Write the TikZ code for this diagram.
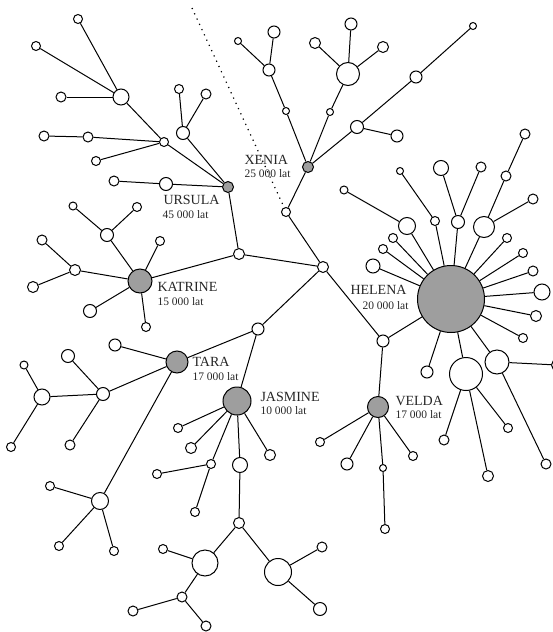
\documentclass[tikz,border=0pt]{standalone}
\usepackage{fontspec}
\setmainfont{Liberation Serif}

\tikzset{
  hap/.style={circle, draw, fill=white, inner sep=0pt, minimum size=#1pt},
  hap/.default=9,
  clan/.style={hap=#1, fill=black!38},
  clanname/.style={anchor=west, inner sep=0pt, text=black!85, font=\fontsize{14}{14}\selectfont},
  clanage/.style={anchor=west, inner sep=0pt, text=black!85, font=\fontsize{11.5}{11.5}\selectfont},
  cut/.style={line width=1.2pt, dash pattern=on 1.2pt off 4.6pt}
}

\begin{document}
\begin{tikzpicture}[x=1pt, y=-1pt, line width=1pt]
\clip ( 0, 0 ) rectangle ( 553, 632 );

% Ursula
\node[clan=11] (ur)  at ( 228, 187 ) {};
\node[hap=16]  (u1)  at ( 121,  97 ) {};
\node[hap=9]   (u1a) at (  78,  19 ) {};
\node[hap=9]   (u1b) at (  36,  46 ) {};
\node[hap=10]  (u1c) at (  61,  97 ) {};
\node[hap=9]   (u2)  at ( 164, 142 ) {};
\node[hap=10]  (u2a) at (  88, 137 ) {};
\node[hap=10]  (u2b) at (  44, 136 ) {};
\node[hap=9]   (u2c) at (  96, 161 ) {};
\node[hap=13]  (u3)  at ( 183, 133 ) {};
\node[hap=9]   (u3a) at ( 179,  89 ) {};
\node[hap=10]  (u3b) at ( 206,  94 ) {};
\node[hap=13]  (u4)  at ( 166, 184 ) {};
\node[hap=10]  (u4a) at ( 114, 181 ) {};

\draw (u1a) -- (u1);
\draw (u1b) -- (u1);
\draw (u1c) -- (u1);
\draw (u1) -- (u2);
\draw (u2b) -- (u2a);
\draw (u2a) -- (u2);
\draw (u2c) -- (u2);
\draw (u2) -- (ur);
\draw (u3a) -- (u3);
\draw (u3b) -- (u3);
\draw (u3) -- (ur);
\draw (u4a) -- (u4);
\draw (u4) -- (ur);

% Stamm
\node[hap=11]  (j1) at ( 239, 254 ) {};
\node[hap=11]  (j0) at ( 323, 267 ) {};
\node[hap=9]   (j2) at ( 286, 212 ) {};
\node[clan=11] (xe) at ( 308, 167 ) {};
\node[hap=12]  (j3) at ( 383, 341 ) {};
\node[hap=12]  (j4) at ( 258, 329 ) {};

\draw (ur) -- (j1);
\draw (j1) -- (j0);
\draw (j0) -- (j2);
\draw (j2) -- (xe);
\draw (j0) -- (j3);
\draw (j0) -- (j4);

% Xenia
\node[hap=7]  (x1)  at ( 286, 111 ) {};
\node[hap=12] (x2)  at ( 269,  70 ) {};
\node[hap=7]  (x2a) at ( 238,  41 ) {};
\node[hap=12] (x2b) at ( 274,  32 ) {};
\node[hap=7]  (x3)  at ( 330, 112 ) {};
\node[hap=23] (x4)  at ( 348,  74 ) {};
\node[hap=11] (x4a) at ( 315,  43 ) {};
\node[hap=12] (x4b) at ( 351,  24 ) {};
\node[hap=11] (x4c) at ( 383,  47 ) {};
\node[hap=13] (x5)  at ( 357, 127 ) {};
\node[hap=12] (x5a) at ( 397, 136 ) {};
\node[hap=12] (x6)  at ( 416,  77 ) {};
\node[hap=7]  (x6a) at ( 473,  26 ) {};

\draw (xe) -- (x1);
\draw (x1) -- (x2);
\draw (x2) -- (x2a);
\draw (x2) -- (x2b);
\draw (xe) -- (x3);
\draw (x3) -- (x4);
\draw (x4) -- (x4a);
\draw (x4) -- (x4b);
\draw (x4) -- (x4c);
\draw (xe) -- (x5);
\draw (x5) -- (x5a);
\draw (x5) -- (x6);
\draw (x6) -- (x6a);

% Katrine
\node[clan=24] (ka)  at ( 140, 281 ) {};
\node[hap=13]  (k1)  at ( 107, 235 ) {};
\node[hap=8]   (k1a) at (  73, 206 ) {};
\node[hap=9]   (k1b) at ( 137, 207 ) {};
\node[hap=9]   (k2)  at ( 160, 241 ) {};
\node[hap=11]  (k3)  at (  75, 270 ) {};
\node[hap=10]  (k3a) at (  42, 240 ) {};
\node[hap=11]  (k3b) at (  33, 287 ) {};
\node[hap=13]  (k4)  at (  90, 311 ) {};
\node[hap=9]   (k5)  at ( 146, 327 ) {};

\draw (j1) -- (ka);
\draw (ka) -- (k1);
\draw (k1) -- (k1a);
\draw (k1) -- (k1b);
\draw (ka) -- (k2);
\draw (ka) -- (k3);
\draw (k3) -- (k3a);
\draw (k3) -- (k3b);
\draw (ka) -- (k4);
\draw (ka) -- (k5);

% Tara
\node[clan=22] (ta)  at ( 177, 362 ) {};
\node[hap=12]  (t1)  at ( 115, 345 ) {};
\node[hap=13]  (t2)  at ( 103, 394 ) {};
\node[hap=13]  (t2a) at (  68, 356 ) {};
\node[hap=10]  (t2b) at (  70, 445 ) {};
\node[hap=16]  (t3)  at (  42, 397 ) {};
\node[hap=8]   (t3a) at (  24, 365 ) {};
\node[hap=9]   (t3b) at (  11, 447 ) {};
\node[hap=17]  (t4)  at ( 100, 501 ) {};
\node[hap=9]   (t4a) at (  50, 486 ) {};
\node[hap=9]   (t4b) at (  59, 546 ) {};
\node[hap=9]   (t4c) at ( 114, 551 ) {};

\draw (j4) -- (ta);
\draw (ta) -- (t1);
\draw (ta) -- (t2);
\draw (t2) -- (t2a);
\draw (t2) -- (t2b);
\draw (t2) -- (t3);
\draw (t3) -- (t3a);
\draw (t3) -- (t3b);
\draw (ta) -- (t4);
\draw (t4) -- (t4a);
\draw (t4) -- (t4b);
\draw (t4) -- (t4c);

% Jasmine
\node[clan=28] (ja)  at ( 237, 401 ) {};
\node[hap=9]   (q1)  at ( 178, 428 ) {};
\node[hap=11]  (q2)  at ( 191, 448 ) {};
\node[hap=9]   (q3)  at ( 211, 464 ) {};
\node[hap=9]   (q3a) at ( 157, 474 ) {};
\node[hap=9]   (q3b) at ( 195, 512 ) {};
\node[hap=15]  (q4)  at ( 240, 465 ) {};
\node[hap=11]  (q5)  at ( 270, 455 ) {};
\node[hap=11]  (q6)  at ( 239, 523 ) {};
\node[hap=26]  (q7)  at ( 205, 563 ) {};
\node[hap=9]   (q7a) at ( 163, 549 ) {};
\node[hap=10]  (q8)  at ( 182, 597 ) {};
\node[hap=10]  (q8a) at ( 133, 611 ) {};
\node[hap=10]  (q8b) at ( 206, 626 ) {};
\node[hap=27]  (q9)  at ( 278, 572 ) {};
\node[hap=10]  (q9a) at ( 322, 547 ) {};
\node[hap=13]  (q9b) at ( 320, 609 ) {};

\draw (j4) -- (ja);
\draw (ja) -- (q1);
\draw (ja) -- (q2);
\draw (ja) -- (q3);
\draw (q3) -- (q3a);
\draw (q3) -- (q3b);
\draw (ja) -- (q4);
\draw (q4) -- (q6);
\draw (ja) -- (q5);
\draw (q6) -- (q7);
\draw (q7) -- (q7a);
\draw (q7) -- (q8);
\draw (q8) -- (q8a);
\draw (q8) -- (q8b);
\draw (q6) -- (q9);
\draw (q9) -- (q9a);
\draw (q9) -- (q9b);

% Velda
\node[clan=21] (ve)  at ( 378, 407 ) {};
\node[hap=9]   (v1)  at ( 320, 442 ) {};
\node[hap=12]  (v2)  at ( 347, 464 ) {};
\node[hap=7]   (v3)  at ( 383, 468 ) {};
\node[hap=9]   (v3a) at ( 385, 529 ) {};
\node[hap=9]   (v4)  at ( 413, 456 ) {};

\draw (j3) -- (ve);
\draw (ve) -- (v1);
\draw (ve) -- (v2);
\draw (ve) -- (v3);
\draw (v3) -- (v3a);
\draw (ve) -- (v4);

% Helena
\node[clan=67] (he)   at ( 451, 299 ) {};
\node[hap=17]  (h1)   at ( 407, 226 ) {};
\node[hap=8]   (h1a)  at ( 344, 190 ) {};
\node[hap=9]   (h2)   at ( 435, 221 ) {};
\node[hap=7]   (h2a)  at ( 400, 171 ) {};
\node[hap=13]  (h3)   at ( 458, 222 ) {};
\node[hap=15]  (h3a)  at ( 441, 168 ) {};
\node[hap=10]  (h3b)  at ( 481, 167 ) {};
\node[hap=21]  (h4)   at ( 484, 227 ) {};
\node[hap=10]  (h4a)  at ( 506, 176 ) {};
\node[hap=10]  (h4b)  at ( 525, 134 ) {};
\node[hap=10]  (h4c)  at ( 533, 199 ) {};
\node[hap=9]   (h5)   at ( 507, 238 ) {};
\node[hap=9]   (h6)   at ( 523, 253 ) {};
\node[hap=10]  (h7)   at ( 533, 271 ) {};
\node[hap=16]  (h8)   at ( 542, 292 ) {};
\node[hap=11]  (h9)   at ( 536, 316 ) {};
\node[hap=9]   (h10)  at ( 523, 338 ) {};
\node[hap=24]  (h11)  at ( 497, 362 ) {};
\node[hap=11]  (h11a) at ( 557, 365 ) {};
\node[hap=10]  (h11b) at ( 546, 464 ) {};
\node[hap=33]  (h12)  at ( 466, 374 ) {};
\node[hap=10]  (h12a) at ( 444, 440 ) {};
\node[hap=11]  (h12b) at ( 488, 476 ) {};
\node[hap=9]   (h12c) at ( 508, 428 ) {};
\node[hap=12]  (h13)  at ( 427, 372 ) {};
\node[hap=9]   (h14)  at ( 393, 238 ) {};
\node[hap=9]   (h15)  at ( 383, 249 ) {};
\node[hap=14]  (h16)  at ( 373, 266 ) {};

\draw (j3) -- (he);
\draw (he) -- (h1);
\draw (h1) -- (h1a);
\draw (he) -- (h2);
\draw (h2) -- (h2a);
\draw (he) -- (h3);
\draw (h3) -- (h3a);
\draw (h3) -- (h3b);
\draw (he) -- (h4);
\draw (h4) -- (h4a);
\draw (h4a) -- (h4b);
\draw (h4) -- (h4c);
\draw (he) -- (h5);
\draw (he) -- (h6);
\draw (he) -- (h7);
\draw (he) -- (h8);
\draw (he) -- (h9);
\draw (he) -- (h10);
\draw (he) -- (h11);
\draw (h11) -- (h11a);
\draw (h11) -- (h11b);
\draw (he) -- (h12);
\draw (h12) -- (h12a);
\draw (h12) -- (h12b);
\draw (h12) -- (h12c);
\draw (he) -- (h13);
\draw (he) -- (h14);
\draw (he) -- (h15);
\draw (he) -- (h16);

% Schnitt
\coordinate (cut1) at ( 192,   8 );
\coordinate (cut2) at ( 283, 205 );
\draw[cut] (cut1) -- (cut2);

% Namen
\node[clanname] (urn) at ( 163, 200 ) {URSULA};
\node[clanage]  (ury) at ( 162, 215 ) {45 000 lat};
\node[clanname] (xen) at ( 244, 160 ) {XENIA};
\node[clanage]  (xey) at ( 244, 174 ) {25 000 lat};
\node[clanname] (kan) at ( 157, 287 ) {KATRINE};
\node[clanage]  (kay) at ( 157, 302 ) {15 000 lat};
\node[clanname] (tan) at ( 192, 362 ) {TARA};
\node[clanage]  (tay) at ( 192, 377 ) {17 000 lat};
\node[clanname] (jan) at ( 260, 397 ) {JASMINE};
\node[clanage]  (jay) at ( 260, 411 ) {10 000 lat};
\node[clanname] (ven) at ( 395, 401 ) {VELDA};
\node[clanage]  (vey) at ( 395, 415 ) {17 000 lat};
\node[clanname] (hen) at ( 350, 290 ) {HELENA};
\node[clanage]  (hey) at ( 362, 306 ) {20 000 lat};

\end{tikzpicture}
\end{document}
